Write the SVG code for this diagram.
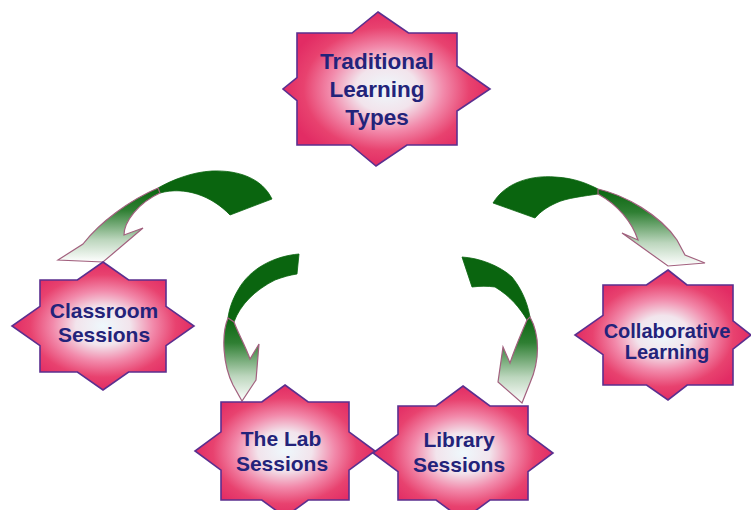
<svg xmlns="http://www.w3.org/2000/svg" width="751" height="510" viewBox="0 0 751 510">
<defs>
<radialGradient id="starFill" cx="0.5" cy="0.5" r="0.5">
<stop offset="0" stop-color="#eef8fc"/>
<stop offset="0.3" stop-color="#f2e4ec"/>
<stop offset="0.55" stop-color="#f28aab"/>
<stop offset="0.8" stop-color="#e8426f"/>
<stop offset="1" stop-color="#e22c64"/>
</radialGradient>
<linearGradient id="bodyV" x1="0" y1="0" x2="0" y2="1">
<stop offset="0" stop-color="#0a650f"/>
<stop offset="0.3" stop-color="#2f7f33"/>
<stop offset="0.7" stop-color="#bcd6bd"/>
<stop offset="1" stop-color="#ffffff"/>
</linearGradient>
</defs>
<style>
.star{fill:url(#starFill);stroke:#5b2f8f;stroke-width:1.6;stroke-linejoin:miter}
.lbl{font-family:"Liberation Sans",Arial,sans-serif;font-weight:bold;fill:#23237a;text-anchor:middle}
.tail{fill:#0a650f;stroke:#0a650f;stroke-width:0.8}
.body{fill:url(#bodyV);stroke:#a2607e;stroke-width:1.2;stroke-linejoin:miter}
</style>

<g id="connectors">
<g id="arrow-classroom">
<path class="tail" d="M272,199 C262,178 238,170 212,171 C192,172 172,180 158,188 L160,193 C185,186 212,196 230,215 Z"/>
<path class="body" d="M158,188 C130,200 100,222 83,244 L58,260 L103,262 L143,228 L124,235 C124,222 138,203 160,193 Z"/>
</g>
<g id="arrow-collaborative">
<path class="tail" d="M493,203 C505,183 530,175 555,177 C575,178 588,184 598,189 L598,194 C585,196 566,198 556,203 C547,207 540,212 535,218 Z"/>
<path class="body" d="M598,189 C625,195 660,215 677,240 L685,255 L705,263 L668,266 L622,233 L638,240 C632,222 618,205 598,194 Z"/>
</g>
<g id="arrow-lab">
<path class="tail" d="M299,254 C275,256 250,268 238,290 C232,300 229,310 228,318 L234,322 C240,305 255,290 275,280 C283,277 290,275 297,274 Z"/>
<path class="body" d="M228,318 C221,335 223,365 233,385 L242,401 L256,380 L259,344 L250,359 C245,345 238,333 234,322 Z"/>
</g>
<g id="arrow-library">
<path class="tail" d="M462,257 C480,258 500,266 512,277 C520,287 527,300 530,317 L527,320 C520,308 510,296 495,287 C488,286 480,286 472,287 Z"/>
<path class="body" d="M530,317 C540,335 540,360 530,383 L522,403 L498,382 L503,347 L510,363 C516,345 522,332 527,320 Z"/>
</g>
</g>

<g id="node-traditional">
<polygon class="star" points="378,12 408.5,33 457,33 457,66 490,89 457,111 457,145 407,145 376,166 350.6,145 297,145 297,100.6 283,89 297,77.7 297,33 352,33"/>
<text class="lbl" font-size="22.5" x="377" y="69">Traditional</text>
<text class="lbl" font-size="22.5" x="377" y="97">Learning</text>
<text class="lbl" font-size="22.5" x="377" y="125">Types</text>
</g>

<g id="node-classroom">
<polygon class="star" points="103,262 128.6,280 166,280 166,306.3 194,326 166,345.7 166,372 128.6,372 103,390 77.4,372 40,372 40,345.7 12,326 40,306.3 40,280 77.4,280"/>
<text class="lbl" font-size="21" x="104" y="318">Classroom</text>
<text class="lbl" font-size="21" x="104" y="342">Sessions</text>
</g>

<g id="node-collaborative">
<polygon class="star" points="668,270 687,285 733,285 733,320.9 751,335 733,349.1 733,385 687.2,385 668,400 646.6,385 603,385 603,354.6 575,335 603,315.4 603,285 646.5,285"/>
<text class="lbl" font-size="20" x="667" y="338">Collaborative</text>
<text class="lbl" font-size="20" x="667" y="359">Learning</text>
</g>

<g id="node-lab">
<polygon class="star" points="285,385 308.2,402 349,402 349,431.9 375,451 349,470.1 349,500 308.2,500 285,517 261.8,500 221,500 221,470.1 195,451 221,431.9 221,402 261.8,402"/>
<text class="lbl" font-size="21" x="281" y="446">The Lab</text>
<text class="lbl" font-size="21" x="282" y="471">Sessions</text>
</g>

<g id="node-library">
<polygon class="star" points="463,386 489.9,406 528,406 528,434.4 553,453 528,471.6 528,500 489.9,500 463,520 436.1,500 398,500 398,471.6 373,453 398,434.4 398,406 436.1,406"/>
<text class="lbl" font-size="21" x="459" y="447">Library</text>
<text class="lbl" font-size="21" x="459" y="472">Sessions</text>
</g>
</svg>
